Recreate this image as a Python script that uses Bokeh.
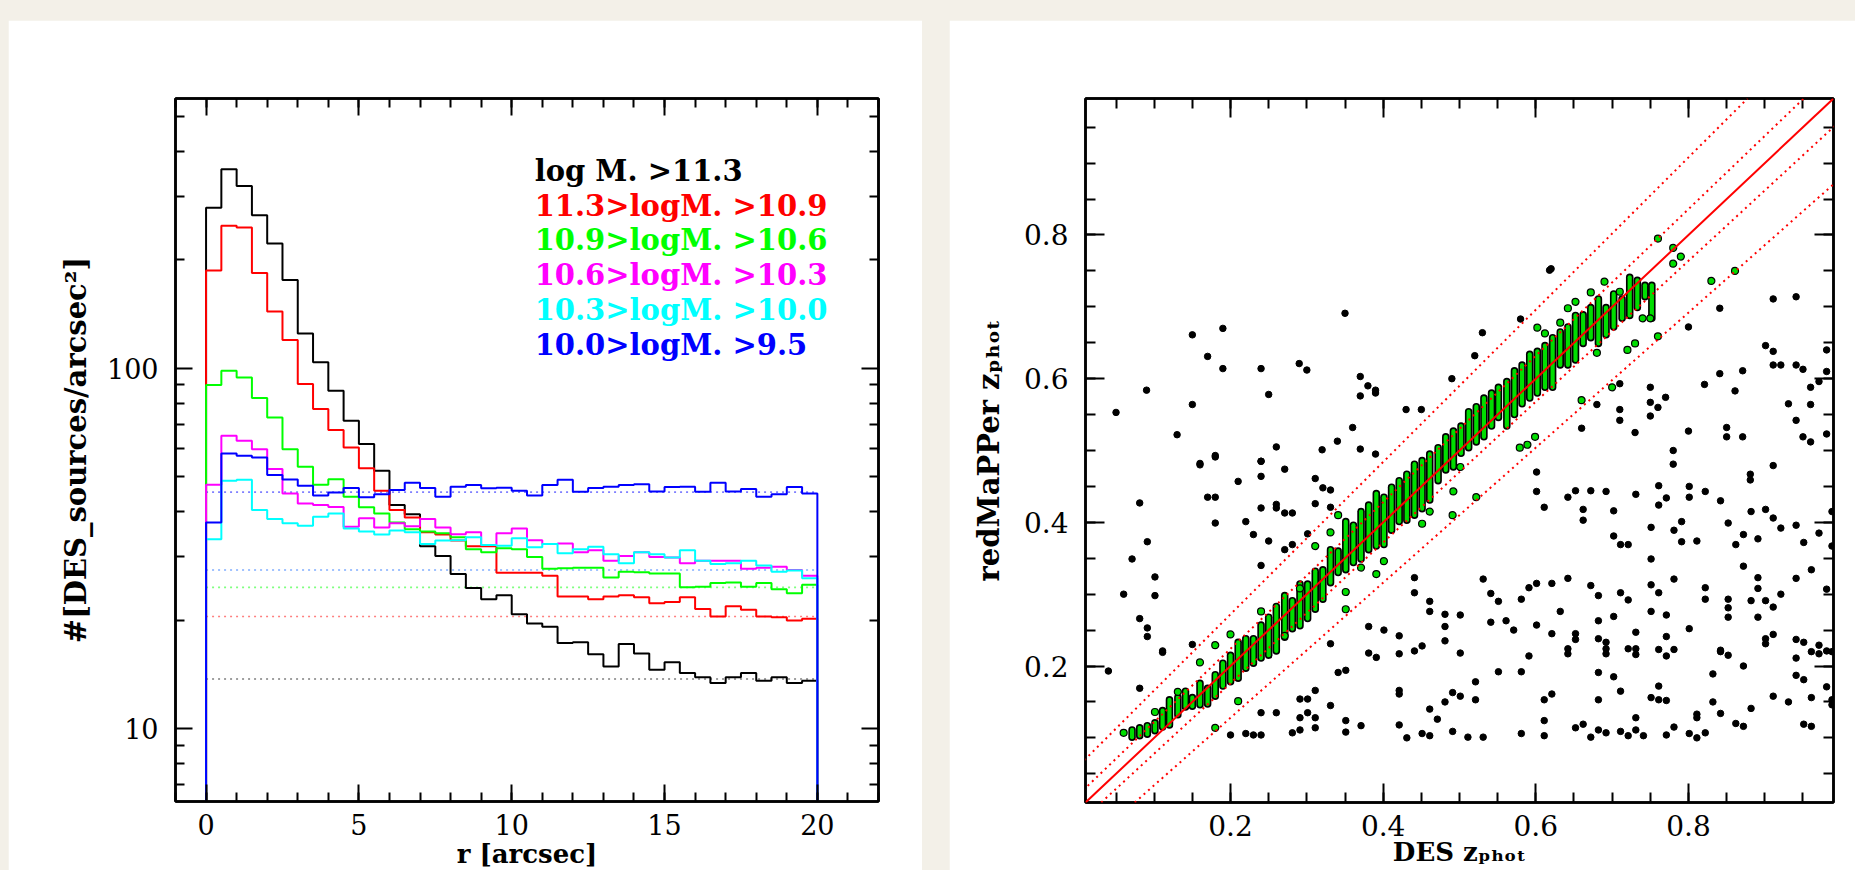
from bokeh.plotting import figure
from bokeh.models import (Range1d, FixedTicker, SingleIntervalTicker, LinearAxis, LogAxis,
                          Slope, Spacer, ColumnDataSource, BasicTickFormatter)
from bokeh.layouts import row, column
from bokeh.core.properties import value
from bokeh.embed import file_html
from bokeh.resources import INLINE

BG = "#f3f0e8"
SERIF = "DejaVu Serif"

# ---------------- left panel data ----------------
bin_width = 0.5
n_bins = 40
series_labels = ["log M. >11.3", "11.3>logM. >10.9", "10.9>logM. >10.6",
                 "10.6>logM. >10.3", "10.3>logM. >10.0", "10.0>logM. >9.5"]
series_colors = ["#000000", "#ff0000", "#00ff00", "#ff00ff", "#00ffff", "#0000ff"]

dens_black = [279, 357, 321, 266, 222, 176, 125, 104, 86.7, 71.6,
              61.7, 52.0, 41.8, 39.4, 32.1, 30.2, 26.9, 24.6, 22.9, 23.5,
              20.8, 19.6, 19.2, 17.3, 17.4, 16.1, 14.9, 17.2, 16.2, 14.6,
              15.3, 14.3, 13.9, 13.4, 13.9, 14.3, 13.6, 13.9, 13.4, 13.6]
dens_red = [187, 249, 246, 184, 144, 120, 90.5, 77.2, 67.5, 60.4,
            52.9, 45.8, 40.5, 38.6, 35.1, 34.6, 33.3, 32.1, 32.1, 27.1,
            27.1, 27.1, 26.6, 23.3, 23.3, 22.9, 23.3, 23.5, 23.2, 22.3,
            22.5, 23.2, 21.5, 20.5, 21.9, 21.4, 20.5, 20.4, 20.0, 20.2]
dens_green = [90.0, 98.5, 94.4, 82.8, 73.1, 59.7, 53.4, 47.6, 49.3, 44.1,
              41.2, 39.6, 37.4, 35.8, 35.3, 34.9, 34.0, 31.5, 30.9, 31.7,
              31.5, 30.0, 27.8, 27.9, 28.0, 28.0, 26.3, 27.3, 27.2, 27.0,
              27.0, 24.7, 24.8, 25.4, 25.5, 24.8, 25.4, 24.4, 23.8, 25.1]
dens_magenta = [47.6, 65.1, 63.0, 59.7, 52.6, 45.0, 42.2, 41.8, 41.3, 36.4,
                38.4, 36.2, 37.2, 36.5, 38.2, 36.2, 34.7, 35.1, 32.4, 34.9,
                36.0, 33.4, 32.6, 32.7, 30.9, 31.3, 29.3, 30.2, 30.9, 30.0,
                29.9, 28.8, 29.3, 29.3, 29.3, 27.8, 28.0, 28.2, 27.6, 26.6]
dens_cyan = [33.6, 48.8, 49.1, 40.5, 38.2, 37.2, 36.6, 38.8, 39.6, 36.0,
             35.3, 34.6, 35.5, 35.1, 32.6, 33.3, 33.4, 34.0, 32.4, 32.2,
             33.8, 31.9, 32.6, 30.7, 31.5, 32.0, 30.5, 28.8, 30.9, 30.5,
             29.9, 31.3, 29.3, 28.7, 28.8, 29.3, 28.4, 27.3, 27.5, 26.2]
dens_blue = [37.4, 58.1, 57.3, 56.6, 50.6, 49.2, 47.3, 44.4, 45.3, 46.6,
             43.9, 44.8, 46.0, 48.2, 46.6, 44.1, 47.0, 47.5, 46.5, 46.7,
             45.8, 44.4, 47.5, 49.1, 45.5, 46.6, 47.0, 47.5, 47.7, 45.6,
             46.9, 47.0, 45.5, 48.2, 45.6, 46.3, 44.1, 44.8, 46.9, 45.0]
all_dens = [dens_black, dens_red, dens_green, dens_magenta, dens_cyan, dens_blue]
bg_levels = [13.75, 20.5, 24.7, 27.6, 27.6, 45.4]

# ---------------- right panel data ----------------
out_x = [0.050, 0.090, 0.130, 0.150, 0.150, 0.170, 0.190, 0.190, 0.180, 0.240,
         0.250, 0.260, 0.290, 0.300, 0.320, 0.340, 0.350, 0.360, 0.370, 0.370,
         0.370, 0.380, 0.390, 0.390, 0.390, 0.430, 0.450, 0.490, 0.520, 0.530,
         0.580, 0.618, 0.240, 0.160,
         0.040, 0.060, 0.071, 0.081, 0.081, 0.091, 0.091, 0.101, 0.101, 0.111,
         0.111, 0.081, 0.091, 0.150, 0.160, 0.170, 0.180, 0.180, 0.180, 0.200,
         0.210, 0.220, 0.220, 0.230, 0.230, 0.240, 0.240, 0.240, 0.240, 0.240,
         0.240, 0.250, 0.260, 0.260, 0.260, 0.271, 0.271, 0.271, 0.281, 0.281,
         0.281, 0.291, 0.291, 0.291, 0.301, 0.301, 0.301, 0.311, 0.311, 0.311,
         0.311, 0.311, 0.321, 0.331, 0.331, 0.331, 0.331, 0.341, 0.351, 0.351,
         0.351, 0.371, 0.381, 0.381, 0.391, 0.401, 0.421, 0.421, 0.421, 0.421,
         0.421, 0.431, 0.441, 0.441, 0.441, 0.451, 0.451, 0.461, 0.461, 0.461,
         0.461, 0.471, 0.481, 0.481, 0.481, 0.481, 0.491, 0.491, 0.501, 0.501,
         0.501, 0.511, 0.521, 0.521, 0.531, 0.531, 0.541, 0.541, 0.551, 0.551,
         0.561, 0.571, 0.581, 0.581, 0.581, 0.591, 0.591, 0.601, 0.601, 0.611,
         0.611, 0.611, 0.621, 0.621, 0.621, 0.632, 0.642, 0.642, 0.642, 0.652,
         0.652, 0.652, 0.662, 0.672, 0.672, 0.682, 0.682, 0.682, 0.682, 0.682,
         0.682, 0.692, 0.692, 0.692, 0.692, 0.702, 0.702, 0.711, 0.711, 0.711,
         0.721, 0.721, 0.721, 0.731, 0.731, 0.731, 0.731, 0.731, 0.741, 0.751,
         0.751, 0.751, 0.761, 0.761, 0.761, 0.761, 0.771, 0.771, 0.771, 0.771,
         0.771, 0.781, 0.781, 0.781, 0.801, 0.801, 0.811, 0.811, 0.811, 0.822,
         0.822, 0.822, 0.832, 0.832, 0.842, 0.842, 0.842, 0.852, 0.852, 0.852,
         0.852, 0.862, 0.872, 0.872, 0.872, 0.882, 0.882, 0.891, 0.891, 0.891,
         0.901, 0.901, 0.901, 0.911, 0.911, 0.911, 0.921, 0.931, 0.941, 0.941,
         0.941, 0.941, 0.951, 0.951, 0.951, 0.961, 0.961, 0.961, 0.971, 0.971,
         0.981, 0.981, 0.988, 0.988, 0.988,
         0.601, 0.601, 0.611, 0.642, 0.652, 0.662, 0.662, 0.672, 0.692, 0.702,
         0.702, 0.711, 0.721, 0.731, 0.751, 0.751, 0.761, 0.761, 0.771, 0.781,
         0.791, 0.791, 0.801, 0.801, 0.811, 0.822, 0.842, 0.852, 0.862, 0.872,
         0.882, 0.891, 0.901, 0.911, 0.921, 0.941, 0.951, 0.961, 0.971, 0.981,
         0.988, 0.988,
         0.620, 0.680, 0.660, 0.710, 0.710, 0.710, 0.730, 0.750, 0.750, 0.750,
         0.760, 0.770, 0.780, 0.780, 0.800, 0.800, 0.821, 0.841, 0.841, 0.850,
         0.850, 0.861, 0.871, 0.871, 0.881, 0.881, 0.901, 0.911, 0.911, 0.911,
         0.921, 0.931, 0.941, 0.941, 0.941, 0.950, 0.950, 0.960, 0.960, 0.960,
         0.971, 0.981, 0.981, 0.981, 0.911]
out_y = [0.553, 0.584, 0.522, 0.661, 0.564, 0.631, 0.670, 0.614, 0.493, 0.614,
         0.578, 0.505, 0.621, 0.612, 0.501, 0.513, 0.691, 0.532, 0.603, 0.576,
         0.502, 0.590, 0.584, 0.580, 0.495, 0.557, 0.557, 0.600, 0.632, 0.664,
         0.683, 0.751, 0.485, 0.482,
         0.193, 0.300, 0.349, 0.266, 0.169, 0.253, 0.241, 0.324, 0.298, 0.221,
         0.219, 0.427, 0.373, 0.230, 0.480, 0.435, 0.435, 0.399, 0.491, 0.104,
         0.457, 0.401, 0.106, 0.383, 0.104, 0.104, 0.135, 0.340, 0.420, 0.464,
         0.485, 0.374, 0.135, 0.425, 0.420, 0.413, 0.362, 0.474, 0.413, 0.369,
         0.107, 0.111, 0.154, 0.128, 0.154, 0.135, 0.384, 0.166, 0.128, 0.114,
         0.461, 0.426, 0.448, 0.231, 0.145, 0.445, 0.421, 0.191, 0.194, 0.124,
         0.108, 0.117, 0.218, 0.255, 0.212, 0.250, 0.242, 0.217, 0.166, 0.161,
         0.118, 0.100, 0.323, 0.302, 0.221, 0.228, 0.106, 0.290, 0.276, 0.140,
         0.103, 0.126, 0.272, 0.255, 0.235, 0.150, 0.163, 0.109, 0.271, 0.218,
         0.158, 0.101, 0.178, 0.153, 0.321, 0.101, 0.301, 0.261, 0.290, 0.192,
         0.263, 0.250, 0.192, 0.106, 0.293, 0.214, 0.309, 0.315, 0.257, 0.153,
         0.124, 0.103, 0.161, 0.315, 0.245, 0.276, 0.322, 0.224, 0.217, 0.245,
         0.237, 0.114, 0.119, 0.312, 0.101, 0.298, 0.263, 0.238, 0.191, 0.153,
         0.111, 0.233, 0.224, 0.217, 0.107, 0.269, 0.185, 0.302, 0.165, 0.109,
         0.292, 0.224, 0.103, 0.247, 0.224, 0.216, 0.128, 0.111, 0.103, 0.313,
         0.276, 0.156, 0.153, 0.172, 0.223, 0.302, 0.271, 0.241, 0.214, 0.152,
         0.104, 0.321, 0.223, 0.115, 0.252, 0.106, 0.133, 0.128, 0.100, 0.309,
         0.293, 0.107, 0.189, 0.150, 0.222, 0.220, 0.134, 0.293, 0.281, 0.268,
         0.215, 0.120, 0.339, 0.116, 0.200, 0.291, 0.141, 0.323, 0.268, 0.308,
         0.238, 0.231, 0.291, 0.282, 0.244, 0.158, 0.300, 0.150, 0.237, 0.211,
         0.322, 0.187, 0.181, 0.233, 0.119, 0.220, 0.156, 0.116, 0.229, 0.217,
         0.221, 0.171, 0.220, 0.153, 0.146,
         0.470, 0.443, 0.421, 0.435, 0.444, 0.418, 0.403, 0.444, 0.443, 0.416,
         0.381, 0.369, 0.369, 0.439, 0.393, 0.349, 0.451, 0.424, 0.434, 0.389,
         0.401, 0.373, 0.450, 0.435, 0.374, 0.443, 0.430, 0.399, 0.369, 0.383,
         0.415, 0.377, 0.418, 0.406, 0.392, 0.396, 0.372, 0.334, 0.385, 0.307,
         0.415, 0.367,
         0.753, 0.564, 0.531, 0.593, 0.557, 0.542, 0.525, 0.588, 0.567, 0.548,
         0.560, 0.574, 0.500, 0.481, 0.672, 0.527, 0.592, 0.698, 0.607, 0.532,
         0.519, 0.583, 0.611, 0.519, 0.467, 0.459, 0.646, 0.638, 0.619, 0.479,
         0.619, 0.565, 0.714, 0.619, 0.542, 0.613, 0.519, 0.588, 0.564, 0.512,
         0.596, 0.640, 0.610, 0.523, 0.711]

# clustered matches: columns of stacked points (x, lowest y, highest y)
col_x = [0.071, 0.081, 0.091, 0.101, 0.111, 0.120, 0.131, 0.141, 0.150, 0.160,
         0.170, 0.180, 0.190, 0.200, 0.210, 0.220, 0.230, 0.240, 0.250, 0.260,
         0.271, 0.281, 0.291, 0.301, 0.311, 0.321, 0.331, 0.341, 0.351, 0.361,
         0.371, 0.381, 0.391, 0.401, 0.411, 0.421, 0.431, 0.441, 0.451, 0.461,
         0.472, 0.482, 0.492, 0.502, 0.512, 0.522, 0.532, 0.542, 0.551, 0.562,
         0.572, 0.582, 0.592, 0.602, 0.612, 0.622, 0.632, 0.642, 0.652, 0.662,
         0.672, 0.682, 0.692, 0.702, 0.713, 0.723, 0.733, 0.743, 0.752]
col_lo = [0.101, 0.103, 0.105, 0.110, 0.115, 0.118, 0.132, 0.143, 0.144, 0.146,
          0.147, 0.158, 0.172, 0.178, 0.183, 0.197, 0.204, 0.211, 0.215, 0.221,
          0.240, 0.252, 0.256, 0.266, 0.279, 0.293, 0.316, 0.330, 0.334, 0.344,
          0.349, 0.362, 0.367, 0.369, 0.389, 0.401, 0.403, 0.410, 0.419, 0.431,
          0.458, 0.473, 0.477, 0.496, 0.504, 0.512, 0.519, 0.534, 0.546, 0.534,
          0.550, 0.565, 0.573, 0.580, 0.588, 0.588, 0.619, 0.619, 0.626, 0.649,
          0.657, 0.649, 0.661, 0.672, 0.684, 0.688, 0.699, 0.714, 0.684]
col_hi = [0.111, 0.114, 0.117, 0.121, 0.138, 0.153, 0.156, 0.165, 0.156, 0.176,
          0.169, 0.188, 0.204, 0.215, 0.233, 0.238, 0.238, 0.257, 0.268, 0.283,
          0.298, 0.291, 0.314, 0.314, 0.332, 0.334, 0.362, 0.360, 0.401, 0.396,
          0.415, 0.424, 0.440, 0.435, 0.449, 0.458, 0.467, 0.481, 0.486, 0.495,
          0.504, 0.519, 0.527, 0.534, 0.554, 0.561, 0.573, 0.580, 0.588, 0.596,
          0.611, 0.619, 0.634, 0.638, 0.646, 0.657, 0.665, 0.672, 0.688, 0.689,
          0.699, 0.711, 0.699, 0.718, 0.711, 0.741, 0.737, 0.730, 0.730]

# single matched points away from the columns
iso_x = [0.060, 0.101, 0.131, 0.160, 0.180, 0.180, 0.200, 0.210, 0.240, 0.271,
         0.291, 0.311, 0.331, 0.341, 0.351, 0.351, 0.371, 0.391, 0.401, 0.451,
         0.461, 0.491, 0.501, 0.579, 0.589, 0.599, 0.612, 0.602, 0.632, 0.642,
         0.652, 0.660, 0.672, 0.680, 0.690, 0.700, 0.710, 0.720, 0.730, 0.740,
         0.750, 0.760, 0.760, 0.780, 0.780, 0.790, 0.830, 0.861, 0.492, 0.522]
iso_y = [0.107, 0.136, 0.164, 0.205, 0.229, 0.114, 0.244, 0.151, 0.276, 0.242,
         0.308, 0.367, 0.386, 0.410, 0.279, 0.303, 0.337, 0.328, 0.346, 0.398,
         0.415, 0.410, 0.477, 0.504, 0.508, 0.519, 0.663, 0.671, 0.678, 0.698,
         0.707, 0.570, 0.720, 0.636, 0.735, 0.588, 0.721, 0.640, 0.649, 0.684,
         0.684, 0.659, 0.795, 0.782, 0.760, 0.770, 0.736, 0.750, 0.443, 0.435]

scatter_bands = [0.02, 0.06]


def style_axis(ax, major_len, minor_len, font_px, standoff, labels=True):
    ax.axis_line_width = 2.5
    ax.axis_line_color = "black"
    ax.major_tick_in = major_len
    ax.major_tick_out = 0
    ax.minor_tick_in = minor_len
    ax.minor_tick_out = 0
    ax.major_tick_line_width = 2
    ax.minor_tick_line_width = 2
    ax.major_tick_line_color = "black"
    ax.minor_tick_line_color = "black"
    ax.major_label_text_font = SERIF
    ax.major_label_standoff = standoff
    if labels:
        ax.major_label_text_font_size = f"{font_px}px"
        ax.major_label_text_color = "black"
    else:
        ax.major_label_text_font_size = "0px"
        ax.major_label_text_color = None
        ax.major_label_standoff = 0


def style_label(ax, text, size_px, standoff):
    ax.axis_label = text
    ax.axis_label_text_font = SERIF
    ax.axis_label_text_font_style = "bold"
    ax.axis_label_text_font_size = f"{size_px}px"
    ax.axis_label_text_color = "black"
    ax.axis_label_standoff = standoff


# ---------------- left figure ----------------
x1 = (-1, 22)
y1 = (6.29, 561)
p1 = figure(width=914, height=866, x_range=Range1d(*x1), y_range=Range1d(*y1),
            y_axis_type="log", output_backend="svg", toolbar_location=None,
            min_border_left=167, min_border_right=44, min_border_top=78, min_border_bottom=85,
            background_fill_color="white", border_fill_color="white")
p1.grid.visible = False
p1.outline_line_color = "black"
p1.outline_line_width = 2.5

y_minor = [m * d for d in (1, 10, 100) for m in range(2, 10) if y1[0] < m * d < y1[1]]

p1.xaxis[0].ticker = SingleIntervalTicker(interval=5, num_minor_ticks=5)
style_axis(p1.xaxis[0], 17, 9, 27, 12)
style_label(p1.xaxis[0], "r [arcsec]", 26, 1)
p1.yaxis[0].ticker = FixedTicker(ticks=[10, 100], minor_ticks=y_minor)
p1.yaxis[0].formatter = BasicTickFormatter()
style_axis(p1.yaxis[0], 17, 9, 27, 17)
style_label(p1.yaxis[0], "#[DES_sources/arcsec²]", 29, 11)

top1 = LinearAxis(ticker=SingleIntervalTicker(interval=5, num_minor_ticks=5))
style_axis(top1, 17, 9, 27, 0, labels=False)
p1.add_layout(top1, "above")
right1 = LogAxis(ticker=FixedTicker(ticks=[10, 100], minor_ticks=y_minor))
style_axis(right1, 17, 9, 27, 0, labels=False)
p1.add_layout(right1, "right")

floor = 1.0
for col, lvl in zip(series_colors, bg_levels):
    p1.line(x=[0, n_bins * bin_width], y=[lvl, lvl], line_color=col, line_alpha=0.5,
            line_width=1.6, line_dash="2 4")
for dens, col in zip(all_dens, series_colors):
    xs = [0.0]
    ys = [floor]
    for i, v in enumerate(dens):
        xs += [i * bin_width, (i + 1) * bin_width]
        ys += [v, v]
    xs.append(n_bins * bin_width)
    ys.append(floor)
    p1.line(x=xs, y=ys, line_color=col, line_width=2)

legend_y = [354 * 0.8 ** i for i in range(len(series_labels))]
leg_src = ColumnDataSource(dict(x=[10.75] * len(series_labels), y=legend_y,
                                text=series_labels, color=series_colors))
p1.text(x="x", y="y", text="text", text_color="color", source=leg_src,
        text_font=value(SERIF), text_font_style="bold", text_font_size=value("29px"),
        text_align="left", text_baseline="alphabetic")

# ---------------- right figure ----------------
x2 = (0.01, 0.99)
y2 = (0.01, 0.99)
p2 = figure(width=906, height=867, x_range=Range1d(*x2), y_range=Range1d(*y2),
            output_backend="svg", toolbar_location=None,
            min_border_left=136, min_border_right=22, min_border_top=71, min_border_bottom=85,
            background_fill_color="white", border_fill_color="white")
p2.grid.visible = False
p2.outline_line_color = "black"
p2.outline_line_width = 2.5

p2.xaxis[0].ticker = SingleIntervalTicker(interval=0.2, num_minor_ticks=4)
style_axis(p2.xaxis[0], 19, 10, 28, 12)
style_label(p2.xaxis[0], "DES zₚₕₒₜ", 26, -2)
p2.yaxis[0].ticker = SingleIntervalTicker(interval=0.2, num_minor_ticks=4)
style_axis(p2.yaxis[0], 19, 10, 28, 17)
style_label(p2.yaxis[0], "redMaPPer zₚₕₒₜ", 29, 15)

top2 = LinearAxis(ticker=SingleIntervalTicker(interval=0.2, num_minor_ticks=4))
style_axis(top2, 19, 10, 28, 0, labels=False)
p2.add_layout(top2, "above")
right2 = LinearAxis(ticker=SingleIntervalTicker(interval=0.2, num_minor_ticks=4))
style_axis(right2, 19, 10, 28, 0, labels=False)
p2.add_layout(right2, "right")

p2.scatter(x=out_x, y=out_y, size=6.5, marker="circle", fill_color="black", line_color="black")
p2.segment(x0=col_x, y0=col_lo, x1=col_x, y1=col_hi, line_color="black",
           line_width=7.5, line_cap="round")
p2.segment(x0=col_x, y0=col_lo, x1=col_x, y1=col_hi, line_color="#00dd00",
           line_width=4.2, line_cap="round")
p2.scatter(x=iso_x, y=iso_y, size=7, marker="circle", fill_color="#00dd00",
           line_color="black", line_width=1.2)

p2.add_layout(Slope(gradient=1, y_intercept=0, line_color="#ff0000", line_width=2))
for a in scatter_bands:
    p2.add_layout(Slope(gradient=1 + a, y_intercept=a, line_color="#ff0000",
                        line_width=2, line_dash="2 4"))
    p2.add_layout(Slope(gradient=1 - a, y_intercept=-a, line_color="#ff0000",
                        line_width=2, line_dash="2 4"))

# ---------------- page layout ----------------
inner = row(Spacer(width=8, height=20), p1, Spacer(width=27, height=20), p2)
root = column(Spacer(width=1855, height=20), inner, width=1855, height=870,
              sizing_mode="fixed",
              styles={"background-color": BG, "overflow": "hidden"})

open("out.html", "w").write(file_html(root, INLINE))
